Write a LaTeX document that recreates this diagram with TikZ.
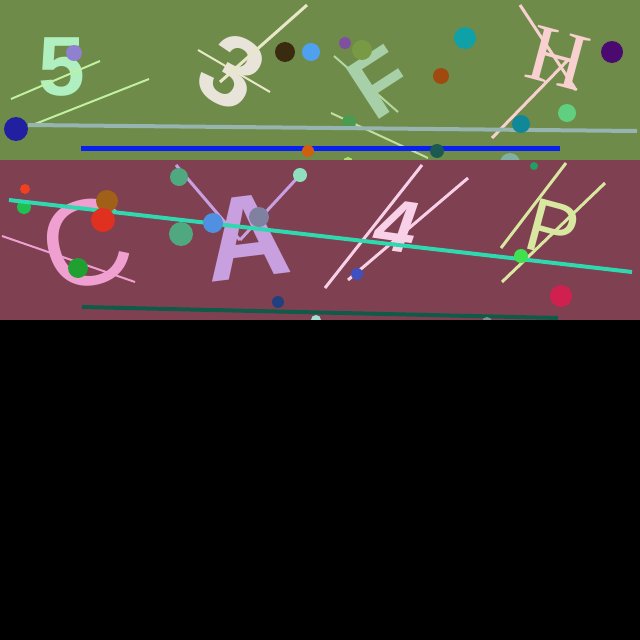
\documentclass[tikz,border=0pt]{standalone}
\usepackage{fontspec}
\setmainfont{Liberation Sans}
\newfontfamily\serifglyph{Liberation Serif}
\usetikzlibrary{calc}
\definecolor{bandgreen}{RGB}{111,139,73}
\definecolor{bandmaroon}{RGB}{127,64,82}
\definecolor{mintglyph}{RGB}{176,240,192}
\definecolor{creamglyph}{RGB}{232,228,218}
\definecolor{sageglyph}{RGB}{168,208,168}
\definecolor{blushglyph}{RGB}{248,208,208}
\definecolor{pinkglyph}{RGB}{240,160,208}
\definecolor{lilacglyph}{RGB}{200,160,224}
\definecolor{paleglyph}{RGB}{248,208,232}
\definecolor{limeglyph}{RGB}{216,232,160}
\definecolor{steelline}{RGB}{150,180,176}
\definecolor{blueline}{RGB}{10,32,240}
\definecolor{tealline}{RGB}{48,216,176}
\definecolor{pineline}{RGB}{16,90,72}
\tikzset{
    glyph/.style={inner sep=0pt,font=\fontsize{#1}{#1}\selectfont\bfseries},
    thin stroke/.style={line width=2pt},
    wide stroke/.style={line width=4pt}
}

\begin{document}
\begin{tikzpicture}[x=1pt,y=-1pt]
    \useasboundingbox (0,0) rectangle (640,640);
    \fill[black] (0,0) rectangle (640,640);

    % upper band
    \fill[bandgreen] (0,0) rectangle (640,160);
    \node[glyph=84,text=mintglyph] (five) at (62,67) {5};
    \fill[color={rgb,255:red,144;green,128;blue,208}] (74,53) circle (8pt);
    \draw[thin stroke,color={rgb,255:red,192;green,240;blue,160}] (11,99) -- (100,61);
    \draw[thin stroke,color={rgb,255:red,192;green,240;blue,160}] (35,124) -- (149,79);
    \node[glyph=100,text=creamglyph,rotate=-30] (three) at (232,72) {3};
    \draw[line width=3pt,color={rgb,255:red,232;green,232;blue,200}] (307,5) -- (220,82);
    \draw[thin stroke,color={rgb,255:red,232;green,232;blue,200}] (198,50) -- (270,92);
    \fill[color={rgb,255:red,58;green,42;blue,16}] (285,52) circle (10pt);
    \fill[color={rgb,255:red,80;green,160;blue,240}] (311,52) circle (9pt);
    \draw[thin stroke,color={rgb,255:red,176;green,216;blue,160}] (334,56) -- (398,112);
    \node[glyph=88,text=sageglyph,rotate=33] (eff) at (381,82) {F};
    \fill[color={rgb,255:red,128;green,80;blue,160}] (345,43) circle (6pt);
    \fill[color={rgb,255:red,121;green,154;blue,69}] (362,50) circle (10pt);
    \fill[color={rgb,255:red,160;green,74;blue,16}] (441,76) circle (8pt);
    \fill[color={rgb,255:red,16;green,160;blue,168}] (465,38) circle (11pt);
    \node[inner sep=0pt,font=\fontsize{82}{82}\selectfont\serifglyph,text=blushglyph,rotate=-15] (aitch) at (558,58) {H};
    \draw[line width=3pt,color=blushglyph] (520,5) -- (576,90);
    \draw[line width=3pt,color=blushglyph] (492,138) -- (568,60);
    \fill[color={rgb,255:red,74;green,10;blue,112}] (612,52) circle (11pt);
    \fill[color={rgb,255:red,96;green,208;blue,128}] (567,113) circle (9pt);
    \draw[thin stroke,color={rgb,255:red,192;green,224;blue,160}] (331,113) -- (428,158);
    \fill[color={rgb,255:red,74;green,154;blue,80}] (349,122) circle (7pt);
    \fill[color={rgb,255:red,32;green,32;blue,160}] (16,129) circle (12pt);
    \draw[wide stroke,color=steelline] (28,125) -- (637,131);
    \fill[color={rgb,255:red,16;green,136;blue,152}] (521,124) circle (9pt);
    \draw[line width=5pt,color=blueline] (81,148) -- (560,148);
    \fill[color={rgb,255:red,208;green,96;blue,16}] (308,151) circle (6pt);
    \fill[color={rgb,255:red,26;green,90;blue,80}] (437,151) circle (7pt);
    \fill[color={rgb,255:red,128;green,176;blue,160}] (510,163) circle (10pt);
    \fill[color={rgb,255:red,176;green,224;blue,112}] (348,162) circle (5pt);

    % lower band
    \fill[bandmaroon] (0,160) rectangle (640,320);
    \node[inner sep=0pt,font=\fontsize{122}{122}\selectfont,text=pinkglyph,rotate=15] (cee) at (86,244) {C};
    \draw[thin stroke,color=pinkglyph] (2,236) -- (135,282);
    \draw[line width=3pt,color=lilacglyph] (176,165) -- (240,240);
    \draw[line width=3pt,color=lilacglyph] (300,175) -- (240,240);
    \node[glyph=118,text=lilacglyph,rotate=7] (ay) at (247,237) {A};
    \fill[color={rgb,255:red,80;green,168;blue,128}] (179,177) circle (9pt);
    \fill[color={rgb,255:red,80;green,168;blue,128}] (181,234) circle (12pt);
    \node[inner sep=0pt,font=\fontsize{74}{74}\selectfont\bfseries\itshape,text=paleglyph,rotate=-8] (four) at (396,226) {4};
    \draw[line width=3pt,color=paleglyph] (325,288) -- (422,165);
    \draw[line width=3pt,color=paleglyph] (348,280) -- (468,178);
    \node[inner sep=0pt,font=\fontsize{76}{76}\selectfont,text=limeglyph,rotate=-15] (pee) at (553,229) {P};
    \draw[line width=3pt,color=limeglyph] (501,248) -- (566,163);
    \draw[line width=3pt,color=limeglyph] (502,282) -- (605,183);
    \fill[color={rgb,255:red,240;green,64;blue,32}] (25,189) circle (5pt);
    \fill[color={rgb,255:red,32;green,192;blue,80}] (24,207) circle (7pt);
    \draw[wide stroke,color=tealline] (9,200) -- (632,272);
    \fill[color={rgb,255:red,160;green,96;blue,24}] (107,201) circle (11pt);
    \fill[color={rgb,255:red,224;green,48;blue,32}] (103,220) circle (12pt);
    \fill[color={rgb,255:red,32;green,160;blue,48}] (78,268) circle (10pt);
    \fill[color={rgb,255:red,80;green,144;blue,224}] (213,223) circle (10pt);
    \fill[color={rgb,255:red,128;green,128;blue,160}] (259,217) circle (10pt);
    \fill[color={rgb,255:red,144;green,224;blue,192}] (300,175) circle (7pt);
    \fill[color={rgb,255:red,64;green,80;blue,192}] (357,274) circle (6pt);
    \fill[color={rgb,255:red,32;green,160;blue,96}] (534,166) circle (4pt);
    \fill[color={rgb,255:red,64;green,224;blue,80}] (521,256) circle (7pt);
    \fill[color={rgb,255:red,208;green,32;blue,80}] (561,296) circle (11pt);
    \fill[color={rgb,255:red,32;green,64;blue,128}] (278,302) circle (6pt);
    \draw[wide stroke,color=pineline] (82,307) -- (558,318);
    \fill[color={rgb,255:red,160;green,224;blue,208}] (316,320) circle (5pt);
    \fill[color={rgb,255:red,128;green,144;blue,144}] (487,322) circle (5pt);

    % lower half stays black
    \fill[black] (0,320) rectangle (640,640);
\end{tikzpicture}
\end{document}
